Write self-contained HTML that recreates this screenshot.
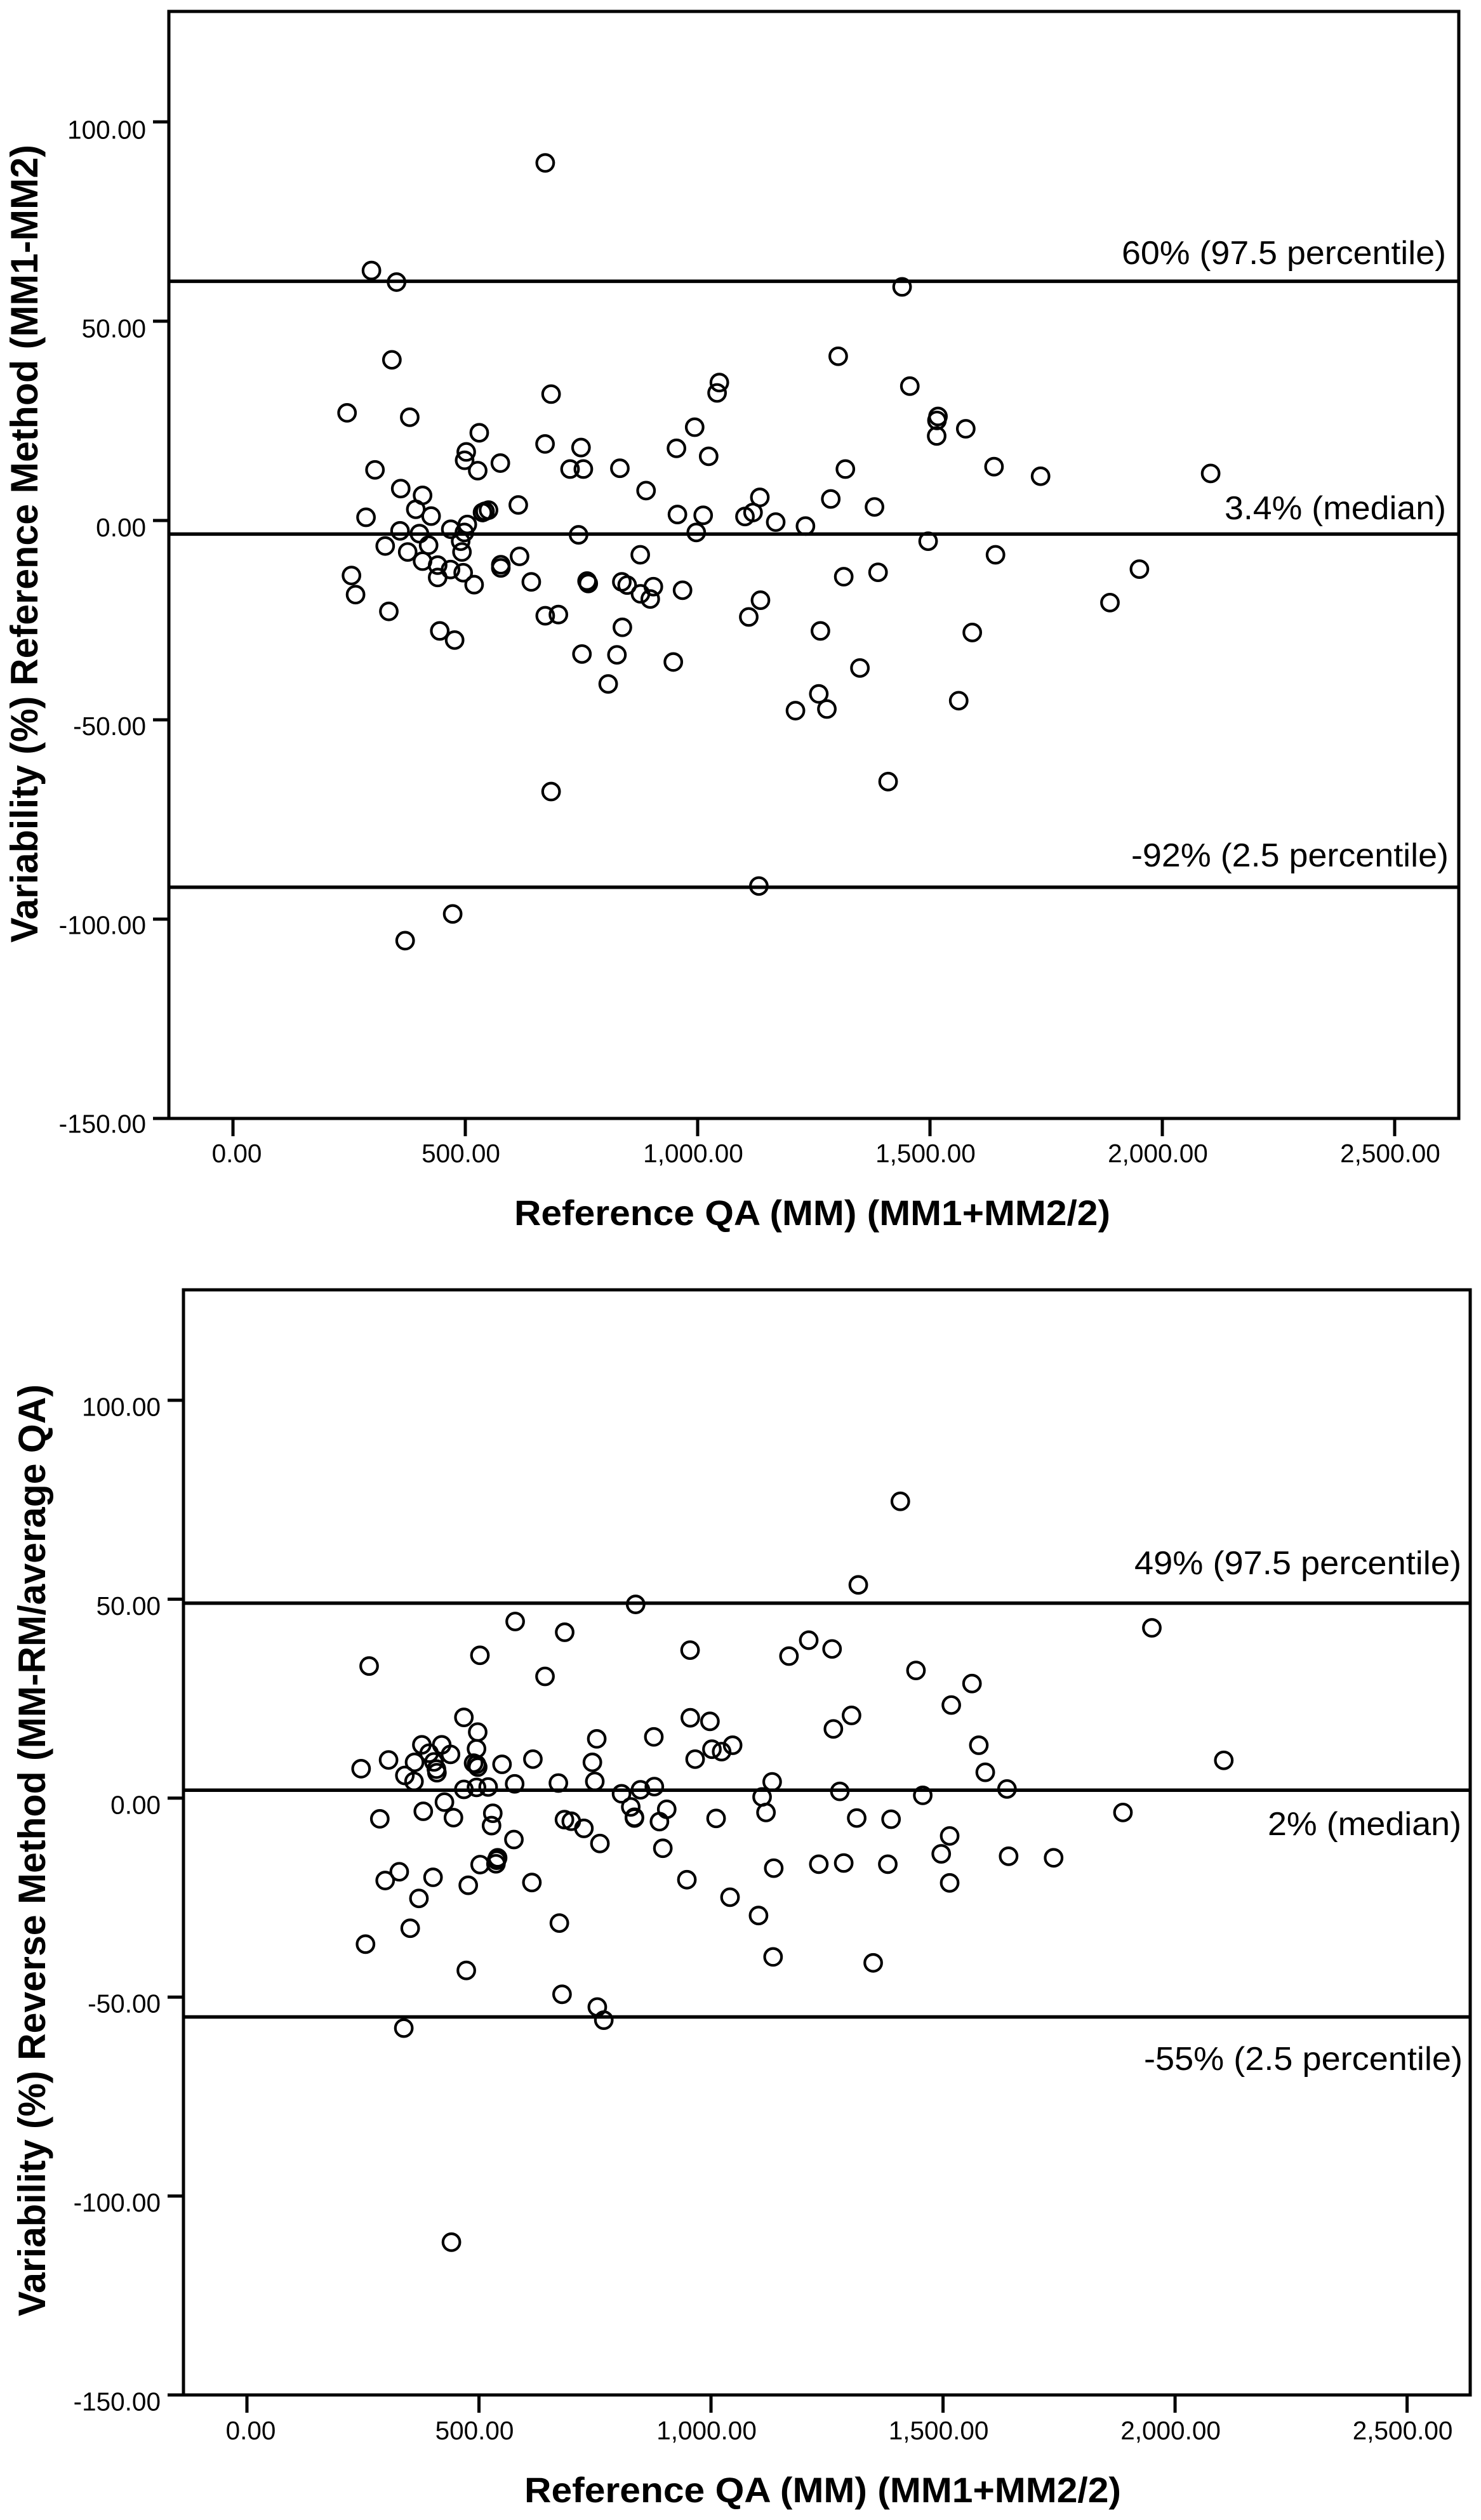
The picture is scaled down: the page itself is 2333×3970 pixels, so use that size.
<!DOCTYPE html>
<html lang="en">
<head>
<meta charset="utf-8">
<title>Bland-Altman variability charts</title>
<style>
  html, body { margin: 0; padding: 0; background: #fff; }
  svg { display: block; }
  text { font-family: "Liberation Sans", Arial, sans-serif; fill: #000; }
</style>
</head>
<body>
<svg id="figure" xmlns="http://www.w3.org/2000/svg" width="2333" height="3970" viewBox="0 0 2333 3970">
  <rect x="0" y="0" width="2333" height="3970" fill="#ffffff"/>
  <g id="chart-one"></g>
  <g id="chart-two"></g>
</svg>
<script>
const xTickValues = [0, 500, 1000, 1500, 2000, 2500];
const xTickLabels = ['0.00', '500.00', '1,000.00', '1,500.00', '2,000.00', '2,500.00'];
const yTickValues = [100, 50, 0, -50, -100, -150];
const yTickLabels = ['100.00', '50.00', '0.00', '-50.00', '-100.00', '-150.00'];

const chartOneRefValues = [60, -3.4, -92];
const chartOneRefLabels = ['60% (97.5 percentile)', '3.4% (median)', '-92% (2.5 percentile)'];
const chartTwoRefValues = [49, 2, -55];
const chartTwoRefLabels = ['49% (97.5 percentile)', '2% (median)', '-55% (2.5 percentile)'];

const chartOneX = [342,245.5,380.4,530,684.6,671.6,749,993.6,954.4,502,498.5,526.7,575.4,305.6,725.4,754,832.6,889,361,408,393.4,426.4,286.3,614,956.5,550,542.4,537,504.3,468.7,498,359.5,401.3,743.7,997,327.6,376,421,490,492.8,408,440.5,468.2,495.4,440.5,519,616.7,576.4,576.4,642,876.5,762,764.6,836.8,848.3,904.7,967.5,877,898,255,263.8,335.4,672,700.3,838,445,477,751,826.3,947.6,807.5,1302.5,1046.7,1041.8,1023.7,1011.9,1133.8,1119.2,1101.8,1168,1232,1286.5,1317.9,1380.6,1456.6,1517.2,1515,1514.4,1577,1637.8,1738,1496,1641,1135.2,1110,1314.4,1388.2,1950.7,1887.3,1264.2,1591,1349.2,1260.7,1278.1,1210.5,1561.8,1409.9,298,352,2104,672,1440,684.6,1131.7,472.8,370.5];
const chartOneY = [40.3,27,25.9,22,31.7,19.2,18.3,23.4,18.1,17.2,15.1,12.5,14.4,12.7,12.9,12.9,13.1,7.5,8,6.3,2.8,1.1,0.8,3.9,1.5,2.6,2.3,2,-1,-2.2,-3,-2.6,-3.3,-3.6,-3,-6.4,-7.9,-6.2,-5.2,-7.9,-10.2,-11.2,-12.3,-13.1,-14.3,-16.1,-9,-11.1,-11.9,-15.4,-8.6,-15.2,-15.8,-15.4,-16.2,-16.6,-17.5,-18.4,-19.7,-13.8,-18.6,-22.8,-23.9,-23.6,-26.8,-27.7,-30,-33.5,-33.7,-35.5,-41,41.2,34.6,32,16.1,1.3,5.8,2,1,-0.4,-1.4,5.4,12.9,3.4,33.7,26.1,25.1,21.2,23,13.5,11.1,-5.2,-8.6,-20,-24.2,-14.1,-13,-12.2,-20.6,-27.7,-28.1,-37,-43.5,-47.3,-47.7,-45.2,-65.5,62.7,59.8,11.8,89.7,58.6,-68,-91.7,-98.7,-105.4];

const chartTwoX = [837.6,578,684.7,502,954.9,263.3,642.3,467.5,955.4,497.3,753.8,876.8,376.9,419.8,392.6,438.7,494.7,305.2,361.2,403,488.4,494.7,497.3,549.7,616.2,744.4,965.8,408.3,409.4,246,340.3,360,576.9,671.1,749.6,467.5,494.7,519.8,877.9,848,807.2,425.6,827.1,380,904.6,529.8,835,835,286.3,445,684.2,698.9,527.1,726.1,888.9,760.6,575.3,896.2,540.2,538.1,536.6,502.5,328.2,401,297.9,614,476.9,948,370.6,673.2,351.8,255.5,472.7,1317.4,1210.6,1168,1260.9,1441.7,1562.4,1517.8,997.7,1302.8,1263.7,1577.1,1591,1002,1022.9,1046.6,1131.8,1110.1,1277.6,1456.3,1637.8,1118.5,1011,1314,1388,1514.3,1496.1,1135.2,1232.3,1286,1381,1641.3,1738.3,1887.7,1514.3,1041,1102.4,1133.8,1349.5,1408,1950,2105,440.6,338,679,755,769];
const chartTwoY = [48.7,44.4,41.7,35.9,37.2,33.2,30.6,20.3,20.2,16.6,14.9,15.4,13.4,13.4,11.3,11,12.4,9.6,9,9.1,8.8,8.5,7.8,8.5,9.8,9,9.8,7.3,6.4,7.4,5.7,4.2,3.6,3.8,4.2,2.2,2.7,2.8,2.9,2.1,1.1,-1,-2.2,-3.3,-2.8,-3.8,-4.8,-5,-5.2,-4.9,-5.4,-5.8,-6.9,-7.6,-5.9,-11.4,-10.4,-12.6,-15,-15.6,-16.5,-16.7,-18.5,-19.9,-20.7,-21.2,-21.9,-20.5,-25.2,-31.4,-32.7,-36.7,-43.3,53.6,39.7,35.7,37.5,32.1,28.8,23.4,19.3,20.8,17.4,13.3,6.5,12.3,11.7,13.3,4.1,0.3,1.7,0.7,2.3,-3.6,-5.1,-5,-5.3,-9.5,-14,-17.6,-16.6,-16.3,-16.6,-14.6,-15,-3.6,-21.3,-24.9,-29.5,-39.9,-41.4,74.6,42.8,9.5,-111.6,-57.8,-49.3,-52.5,-55.8];

const SVG_NS = 'http://www.w3.org/2000/svg';

function make(parent, tag, attrs, content) {
  const el = document.createElementNS(SVG_NS, tag);
  Object.keys(attrs).forEach(function (k) { el.setAttribute(k, attrs[k]); });
  if (content !== undefined) el.textContent = content;
  parent.appendChild(el);
  return el;
}

function drawChart(group, layout, xs, ys, refValues, refLabels) {
  const xAxis = function (v) {
    return layout.left + (v - layout.xMin) / (layout.xMax - layout.xMin) * (layout.right - layout.left);
  };
  const yAxis = function (v) {
    return layout.top + (layout.yMax - v) / (layout.yMax - layout.yMin) * (layout.bottom - layout.top);
  };
  const ink = '#000000';

  yTickValues.forEach(function (v, i) {
    const tick = make(group, 'line', { x1: layout.left - 25, x2: layout.left, y1: yAxis(v), y2: yAxis(v), stroke: ink, 'stroke-width': 5 });
    
    
    const label = make(group, 'text', { x: layout.yLabelRight, y: layout.yLabelBase + (100 - v) * layout.yLabelStep, 'text-anchor': 'end', 'font-size': 40.5 }, yTickLabels[i]);
    
    
  });

  xTickValues.forEach(function (v, i) {
    const tick = make(group, 'line', { x1: xAxis(v), x2: xAxis(v), y1: layout.bottom, y2: layout.bottom + 28, stroke: ink, 'stroke-width': 5 });
    
    
    const label = make(group, 'text', { x: xAxis(v) + (v === 0 ? 6 : -7), y: layout.xLabelBase, 'text-anchor': 'middle', 'font-size': 40.5 }, xTickLabels[i]);
    
    
  });

  const frame = make(group, 'rect', { x: layout.left, y: layout.top, width: layout.right - layout.left, height: layout.bottom - layout.top, fill: 'none', stroke: ink, 'stroke-width': 5 });
  
  

  refValues.forEach(function (v, i) {
    const line = make(group, 'line', { x1: layout.left, x2: layout.right, y1: yAxis(v), y2: yAxis(v), stroke: ink, 'stroke-width': 5.5 });
    
    
    const place = layout.refText[i];
    const label = make(group, 'text', { x: place.x, y: place.y, 'font-size': 52, textLength: place.w, lengthAdjust: 'spacingAndGlyphs' }, refLabels[i]);
    
    
  });

  xs.forEach(function (x, i) {
    const point = make(group, 'circle', { cx: xAxis(x), cy: yAxis(ys[i]), r: 13.3, fill: 'none', stroke: ink, 'stroke-width': 4.2 });
    
    
  });

  const xTitle = make(group, 'text', { x: layout.xTitleX, y: layout.xTitleY, 'font-size': 56, 'font-weight': 'bold', textLength: layout.xTitleW, lengthAdjust: 'spacingAndGlyphs' }, layout.xTitle);
  
  

  const yTitle = make(group, 'text', { x: layout.yTitleX, y: layout.yTitleY, transform: 'rotate(-90 ' + layout.yTitleX + ' ' + layout.yTitleY + ')', 'font-size': 60, 'font-weight': 'bold', textLength: layout.yTitleW, lengthAdjust: 'spacingAndGlyphs' }, layout.yTitle);
  
  
}

drawChart(document.getElementById('chart-one'), {
  left: 266, right: 2298, top: 18, bottom: 1762,
  xMin: -138, xMax: 2638, yMin: -150, yMax: 127.7,
  yLabelRight: 230, yLabelBase: 218.5, yLabelStep: 6.264, xLabelBase: 1831,
  refText: [
    { x: 1767, y: 416, w: 511 },
    { x: 1929, y: 818, w: 349 },
    { x: 1782, y: 1365, w: 500 }
  ],
  xTitle: 'Reference QA (MM) (MM1+MM2/2)', xTitleX: 810, xTitleY: 1930, xTitleW: 939,
  yTitle: 'Variability (%) Reference Method (MM1-MM2)', yTitleX: 59, yTitleY: 1485, yTitleW: 1257
}, chartOneX, chartOneY, chartOneRefValues, chartOneRefLabels);

drawChart(document.getElementById('chart-two'), {
  left: 289, right: 2316, top: 2032, bottom: 3773,
  xMin: -136.8, xMax: 2636, yMin: -150, yMax: 127.76,
  yLabelRight: 253, yLabelBase: 2230.5, yLabelStep: 6.268, xLabelBase: 3843,
  refText: [
    { x: 1787, y: 2480, w: 515 },
    { x: 1997, y: 2891, w: 305 },
    { x: 1802, y: 3261, w: 502 }
  ],
  xTitle: 'Reference QA (MM) (MM1+MM2/2)', xTitleX: 826, xTitleY: 3942, xTitleW: 940,
  yTitle: 'Variability (%) Reverse Method (MM-RM/average QA)', yTitleX: 71, yTitleY: 3649, yTitleW: 1468
}, chartTwoX, chartTwoY, chartTwoRefValues, chartTwoRefLabels);
</script>
</body>
</html>
